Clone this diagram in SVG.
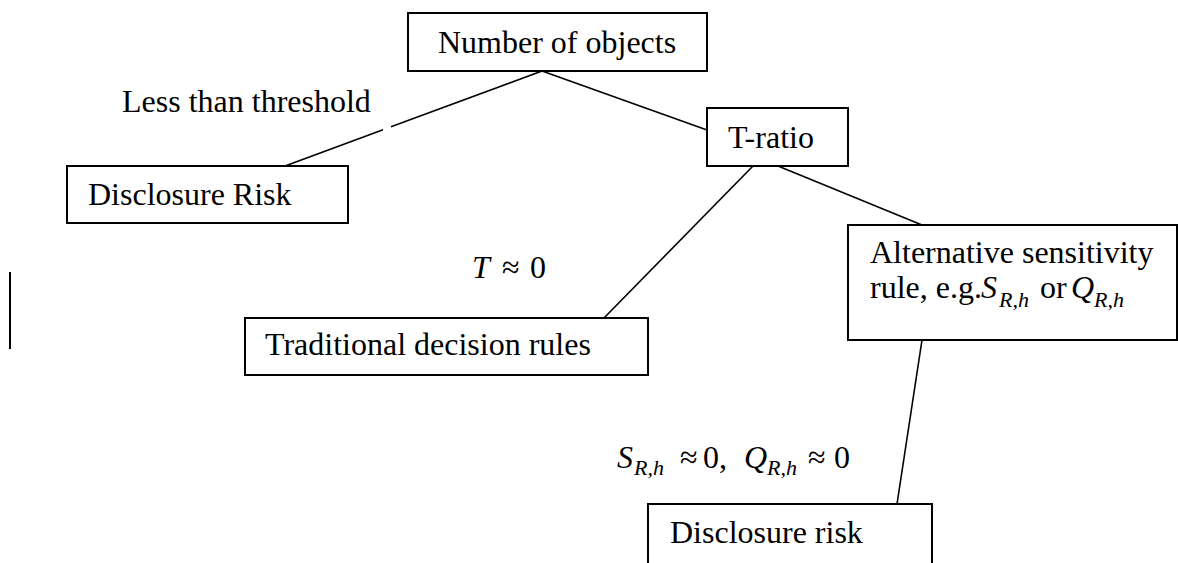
<svg xmlns="http://www.w3.org/2000/svg" width="1178" height="563" viewBox="0 0 1178 563">
<style>
.box{fill:#fff;stroke:#000;stroke-width:2}
.t{font-family:"Liberation Serif","Times New Roman",serif;font-size:32px;fill:#000}
.m{font-family:"Liberation Serif","Times New Roman",serif;font-style:italic}
.s{font-size:22px}
.c{stroke:#000;stroke-width:1.6;fill:none}
</style>
<rect width="1178" height="563" fill="#fff"/>
<g id="connectors">
<line class="c" x1="285" y1="166" x2="383" y2="129.8"/>
<line class="c" x1="391" y1="126.8" x2="542" y2="71"/>
<line class="c" x1="542" y1="71" x2="707" y2="130"/>
<line class="c" x1="753" y1="166" x2="604" y2="318"/>
<line class="c" x1="778" y1="166" x2="922" y2="225"/>
<line class="c" x1="922" y1="340" x2="897" y2="504"/>
<line x1="10" y1="272" x2="10" y2="349" stroke="#000" stroke-width="2"/>
</g>
<g id="number-of-objects">
<rect class="box" x="408" y="13" width="299" height="58"/>
<text class="t" x="438" y="53">Number of objects</text>
</g>
<g id="label-less-than-threshold">
<text class="t" x="122" y="112">Less than threshold</text>
</g>
<g id="disclosure-risk-left">
<rect class="box" x="67" y="166" width="281" height="57"/>
<text class="t" x="88" y="205">Disclosure Risk</text>
</g>
<g id="t-ratio">
<rect class="box" x="707" y="108" width="141" height="58"/>
<text class="t" x="728" y="148">T-ratio</text>
</g>
<g id="label-t">
<text class="t" y="278"><tspan class="m" x="472">T</tspan><tspan x="502">≈</tspan><tspan x="530">0</tspan></text>
</g>
<g id="traditional">
<rect class="box" x="245" y="318" width="403" height="57"/>
<text class="t" x="265" y="355">Traditional decision rules</text>
</g>
<g id="alternative">
<rect class="box" x="848" y="225" width="329" height="115"/>
<text class="t" x="870" y="263">Alternative sensitivity</text>
<text class="t" y="298"><tspan x="870">rule, e.g.</tspan><tspan class="m" x="981">S</tspan><tspan class="m s" x="999" y="307">R,h</tspan><tspan x="1040" y="298">or</tspan><tspan class="m" x="1071">Q</tspan><tspan class="m s" x="1094" y="307">R,h</tspan></text>
</g>
<g id="label-s">
<text class="t" y="468"><tspan class="m" x="617">S</tspan><tspan class="m s" x="634" y="475">R,h</tspan><tspan x="680" y="468">≈</tspan><tspan x="703">0,</tspan><tspan class="m" x="744">Q</tspan><tspan class="m s" x="767" y="475">R,h</tspan><tspan x="808" y="468">≈</tspan><tspan x="834">0</tspan></text>
</g>
<g id="disclosure-risk-bottom">
<rect class="box" x="648" y="504" width="284" height="70"/>
<text class="t" x="670" y="543">Disclosure risk</text>
</g>
</svg>
